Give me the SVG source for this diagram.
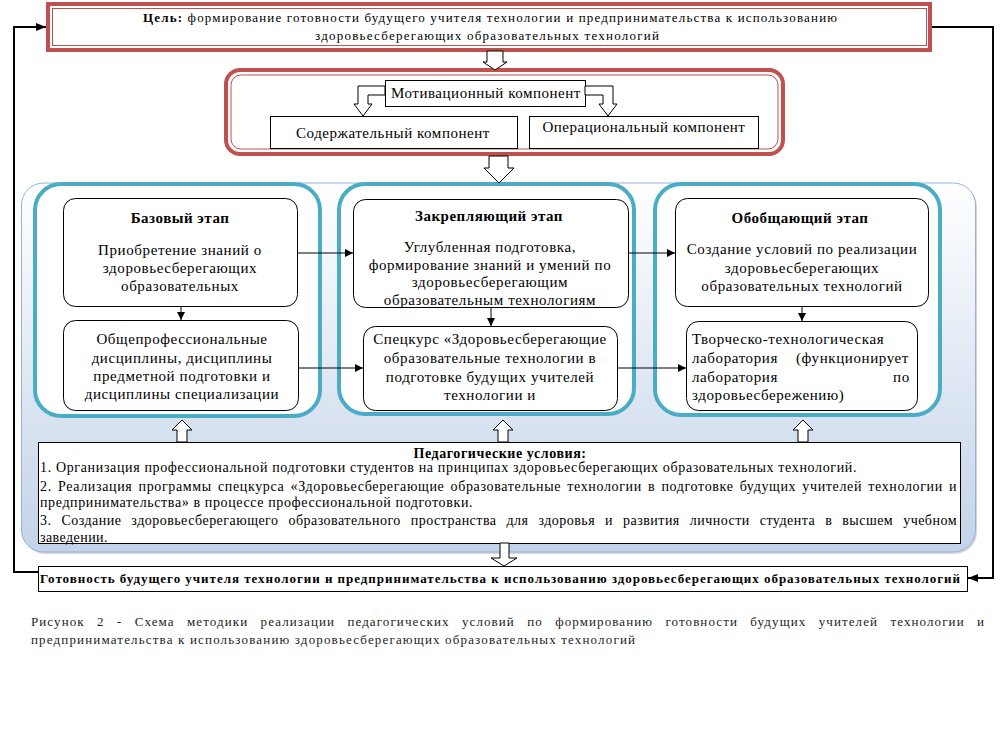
<svg xmlns="http://www.w3.org/2000/svg" width="1005" height="747" viewBox="0 0 1005 747">
<defs>
<style>
.t{font-size:15px;fill:#000;letter-spacing:0.6px}
.tb{font-size:15px;font-weight:bold;fill:#000;letter-spacing:0.5px}
.s{font-size:13px;fill:#000}
.c{font-size:14px;fill:#000;letter-spacing:0.5px}
.cap{font-size:13px;fill:#222;letter-spacing:1px}
.m{text-anchor:middle}
.box{fill:#fff;stroke:#000;stroke-width:1}
.stage{fill:#fff;stroke:#4bacc6;stroke-width:4}
.hol{fill:#fff;stroke:#000;stroke-width:1;stroke-linejoin:miter}
.ln{fill:none;stroke:#000;stroke-width:1}
.fb{fill:none;stroke:#000;stroke-width:2}
</style>
<linearGradient id="pg" x1="0" y1="0" x2="0" y2="1">
<stop offset="0" stop-color="#ffffff"/>
<stop offset="1" stop-color="#c3d3e9"/>
</linearGradient>
<marker id="ah" viewBox="0 0 10 10" refX="10" refY="5" markerWidth="8" markerHeight="8" markerUnits="userSpaceOnUse" orient="auto">
<path d="M0,0 L10,5 L0,10 Z" fill="#000"/>
</marker>
<marker id="ah2" viewBox="0 0 10 10" refX="10" refY="5" markerWidth="10" markerHeight="10" markerUnits="userSpaceOnUse" orient="auto">
<path d="M0,1 L10,5 L0,9 Z" fill="#000"/>
</marker>
<clipPath id="clip2"><rect x="354" y="200" width="273" height="107" rx="12"/></clipPath>
</defs>
<rect width="1005" height="747" fill="#fff"/>

<g id="panel">
<rect x="23" y="185" width="954" height="369" rx="22" fill="#b0b0b0" opacity="0.5"/>
<rect x="21.5" y="183" width="954" height="369" rx="22" fill="url(#pg)" stroke="#95b3d7" stroke-width="1"/>
</g>

<g id="goal">
<rect x="48" y="4" width="882" height="46" fill="#fff" stroke="#c0504d" stroke-width="4"/>
<rect x="52.5" y="8.5" width="874" height="37" fill="none" stroke="#c0504d" stroke-width="1"/>
<text font-family="Liberation Serif" class="s" x="143" y="22" textLength="694" lengthAdjust="spacing"><tspan font-weight="bold">Цель:</tspan> формирование готовности будущего учителя технологии и предпринимательства к использованию</text>
<text font-family="Liberation Serif" class="s" x="315" y="40" textLength="344" lengthAdjust="spacing">здоровьесберегающих  образовательных технологий</text>
</g>

<g id="components">
<rect x="226" y="70" width="557" height="84" rx="14" fill="#fff" stroke="#c0504d" stroke-width="4"/>
<rect x="231" y="75" width="547" height="74" rx="10" fill="none" stroke="#c0504d" stroke-width="1"/>
</g>

<g id="motivational">
<rect class="box" x="385.5" y="80.5" width="200" height="26"/>
<text font-family="Liberation Serif" class="t m" x="486" y="98" textLength="190" lengthAdjust="spacing">Мотивационный компонент</text>
</g>
<g id="content">
<rect class="box" x="270.5" y="116.5" width="247" height="32"/>
<text font-family="Liberation Serif" class="t m" x="393" y="138" textLength="194" lengthAdjust="spacing">Содержательный компонент</text>
</g>
<g id="operational">
<rect class="box" x="529.5" y="116.5" width="229" height="32"/>
<text font-family="Liberation Serif" class="t m" x="644" y="132" textLength="203" lengthAdjust="spacing">Операциональный компонент</text>
</g>

<g id="stage1">
<rect class="stage" x="35" y="184" width="285" height="232" rx="26"/>
<rect class="box" x="63.5" y="198.5" width="234" height="108" rx="12"/>
<text font-family="Liberation Serif" class="tb m" x="180" y="223">Базовый этап</text>
<text font-family="Liberation Serif" class="t m" x="180" y="255">Приобретение знаний о</text>
<text font-family="Liberation Serif" class="t m" x="180" y="273">здоровьесберегающих</text>
<text font-family="Liberation Serif" class="t m" x="180" y="291">образовательных</text>
<rect class="box" x="63.5" y="320.5" width="235" height="90" rx="12"/>
<text font-family="Liberation Serif" class="t m" x="182" y="344">Общепрофессиональные</text>
<text font-family="Liberation Serif" class="t m" x="182" y="363">дисциплины, дисциплины</text>
<text font-family="Liberation Serif" class="t m" x="182" y="381">предметной подготовки и</text>
<text font-family="Liberation Serif" class="t m" x="182" y="399">дисциплины специализации</text>
</g>

<g id="stage2">
<rect class="stage" x="339" y="184" width="295" height="230" rx="26"/>
<rect class="box" x="353.5" y="199.5" width="275" height="108" rx="12"/>
<text font-family="Liberation Serif" class="tb m" x="489" y="221">Закрепляющий этап</text>
<text font-family="Liberation Serif" class="t m" x="490" y="252">Углубленная подготовка,</text>
<text font-family="Liberation Serif" class="t m" x="490" y="270">формирование знаний и умений по</text>
<text font-family="Liberation Serif" class="t m" x="490" y="287">здоровьесберегающим</text>
<text font-family="Liberation Serif" class="t m" x="490" y="305" clip-path="url(#clip2)">образовательным технологиям</text>
<rect class="box" x="363.5" y="326.5" width="254" height="84" rx="12"/>
<text font-family="Liberation Serif" class="t m" x="490" y="344">Спецкурс «Здоровьесберегающие</text>
<text font-family="Liberation Serif" class="t m" x="490" y="363">образовательные технологии в</text>
<text font-family="Liberation Serif" class="t m" x="490" y="382">подготовке будущих учителей</text>
<text font-family="Liberation Serif" class="t m" x="490" y="400">технологии и</text>
</g>

<g id="stage3">
<rect class="stage" x="655" y="184" width="285" height="231" rx="26"/>
<rect class="box" x="675.5" y="198.5" width="253" height="108" rx="12"/>
<text font-family="Liberation Serif" class="tb m" x="800" y="223">Обобщающий этап</text>
<text font-family="Liberation Serif" class="t m" x="802" y="254">Создание условий по реализации</text>
<text font-family="Liberation Serif" class="t m" x="802" y="273">здоровьесберегающих</text>
<text font-family="Liberation Serif" class="t m" x="802" y="291">образовательных технологий</text>
<rect class="box" x="686.5" y="321.5" width="231" height="89" rx="12"/>
<text font-family="Liberation Serif" class="t" x="692" y="344">Творческо-технологическая</text>
<text font-family="Liberation Serif" class="t" y="363"><tspan x="692">лаборатория</tspan><tspan x="796">(функционирует</tspan></text>
<text font-family="Liberation Serif" class="t" y="382"><tspan x="692">лаборатория</tspan><tspan x="893">по</tspan></text>
<text font-family="Liberation Serif" class="t" x="692" y="400">здоровьесбережению)</text>
</g>

<g id="conditions">
<rect class="box" x="38.5" y="442.5" width="922" height="101"/>
<text font-family="Liberation Serif" class="c m" x="500" y="458" font-weight="bold" textLength="173" lengthAdjust="spacing">Педагогические условия:</text>
<text font-family="Liberation Serif" class="c" x="40" y="472" textLength="817" lengthAdjust="spacing">1.  Организация профессиональной подготовки студентов на принципах  здоровьесберегающих образовательных технологий.</text>
<text font-family="Liberation Serif" class="c" x="40" y="491" word-spacing="2" textLength="917" lengthAdjust="spacing">2.  Реализация  программы спецкурса «Здоровьесберегающие образовательные технологии в подготовке будущих учителей технологии и</text>
<text font-family="Liberation Serif" class="c" x="40" y="507" textLength="433" lengthAdjust="spacing">предпринимательства» в процессе профессиональной подготовки.</text>
<text font-family="Liberation Serif" class="c" x="40" y="525" word-spacing="6" textLength="917" lengthAdjust="spacing">3.  Создание  здоровьесберегающего  образовательного  пространства  для  здоровья  и  развития  личности  студента  в  высшем  учебном</text>
<text font-family="Liberation Serif" class="c" x="40" y="542" textLength="68" lengthAdjust="spacing">заведении.</text>
</g>

<g id="readiness">
<rect class="box" x="38.5" y="566.5" width="929" height="25"/>
<text font-family="Liberation Serif" class="s" x="40" y="583" font-weight="bold" textLength="920" lengthAdjust="spacing">Готовность будущего учителя технологии и предпринимательства к использованию здоровьесберегающих образовательных  технологий</text>
</g>

<g id="caption">
<text font-family="Liberation Serif" class="cap" x="31" y="626" word-spacing="8" textLength="954" lengthAdjust="spacing">Рисунок 2 - Схема методики реализации педагогических условий по формированию готовности будущих учителей технологии и</text>
<text font-family="Liberation Serif" class="cap" x="31" y="644" textLength="605" lengthAdjust="spacing">предпринимательства к использованию здоровьесберегающих образовательных технологий</text>
</g>

<g id="connectors">
<polygon class="hol" points="487,51 503,51 503,62 507,62 495,70 483,62 487,62"/>
<polygon class="hol" points="385,86 358,86 358,104 354,104 363,116 372,104 368,104 368,95 385,95"/>
<polygon class="hol" points="585,86 613,86 613,104 617,104 608,116 599,104 603,104 603,95 585,95"/>
<polygon class="hol" points="489,156 508,156 508,168 514,168 499,183 484,168 489,168"/>
<polygon class="hol" points="177,442 177,430 172,430 182,420 192,430 187,430 187,442"/>
<polygon class="hol" points="498,442 498,430 493,430 503,420 513,430 508,430 508,442"/>
<polygon class="hol" points="798,442 798,430 793,430 803,420 813,430 808,430 808,442"/>
<polygon class="hol" points="500,543 509,543 509,558 517,558 504,566 491,558 500,558"/>
<line class="ln" x1="181" y1="307" x2="181" y2="320" marker-end="url(#ah)"/>
<line class="ln" x1="491" y1="308" x2="491" y2="326" marker-end="url(#ah)"/>
<line class="ln" x1="802" y1="307" x2="802" y2="321" marker-end="url(#ah)"/>
<line class="ln" x1="298" y1="253" x2="353" y2="253" marker-end="url(#ah)"/>
<line class="ln" x1="299" y1="368" x2="363" y2="368" marker-end="url(#ah)"/>
<line class="ln" x1="629" y1="253" x2="675" y2="253" marker-end="url(#ah)"/>
<line class="ln" x1="618" y1="368" x2="686" y2="368" marker-end="url(#ah)"/>
<polyline class="fb" points="38,572 14,572 14,27 46,27" marker-end="url(#ah2)"/>
<polyline class="fb" points="932,27 993,27 993,578 968,578" marker-end="url(#ah2)"/>
</g>
</svg>
